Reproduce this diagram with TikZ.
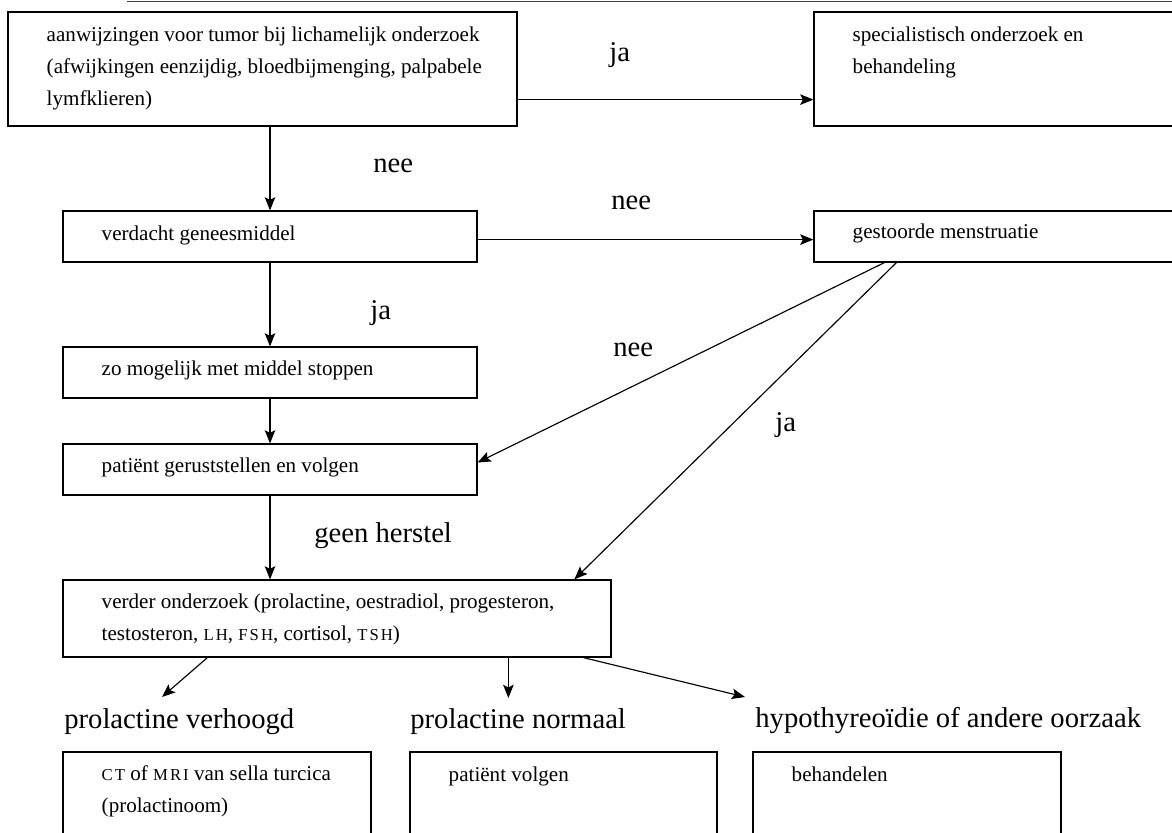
\documentclass[tikz,border=0pt]{standalone}
\usepackage{fontspec}
\setmainfont{Liberation Serif}
\usetikzlibrary{arrows.meta,fit}
\newcommand\kap[1]{{\fontsize{9.5}{9.5}\selectfont\addfontfeature{LetterSpace=12}#1}}
\tikzset{
	box/.style={draw,line width=0.7pt,inner sep=0pt},
	txt/.style={inner sep=0pt,anchor=base west,align=left,font=\fontsize{12}{18.2}\selectfont},
	lbl/.style={inner sep=0pt,anchor=base west,font=\fontsize{16.3}{19}\selectfont},
	arr/.style={-{Stealth[length=7.5pt,width=6pt,inset=1.5pt]},line width=0.65pt}
}
\begin{document}
\begin{tikzpicture}[x=0.2mm,y=-0.2mm]
	\useasboundingbox (0,0) rectangle (1172,833);
	\clip (0,0) rectangle (1172,833);
	\draw[line width=0.6pt,black!75] (127,1.5) -- (1172,1.5);
	\node[box,fit={(8,12) (517,126)}] (tumor) {};
	\node[box,fit={(814,12) (1200,126)}] (spec) {};
	\node[box,fit={(63,211) (477,262)}] (drug) {};
	\node[box,fit={(814,211) (1200,262)}] (mens) {};
	\node[box,fit={(63,347) (477,398)}] (stop) {};
	\node[box,fit={(63,444) (477,495)}] (follow) {};
	\node[box,fit={(63,580) (611,657)}] (verder) {};
	\node[box,fit={(63,752) (371,900)}] (ctmri) {};
	\node[box,fit={(410,752) (717,900)}] (volgen) {};
	\node[box,fit={(753,752) (1061,900)}] (treat) {};
	\node[txt] (tumor-t) at ([shift={(39,94)}]tumor.north west) {aanwijzingen voor tumor bij lichamelijk onderzoek\\(afwijkingen eenzijdig, bloedbijmenging, palpabele\\lymfklieren)};
	\node[txt] (spec-t) at ([shift={(39,62)}]spec.north west) {specialistisch onderzoek en\\behandeling};
	\node[txt] (drug-t) at ([shift={(39,30)}]drug.north west) {verdacht geneesmiddel};
	\node[txt] (mens-t) at ([shift={(39,28)}]mens.north west) {gestoorde menstruatie};
	\node[txt] (stop-t) at ([shift={(39,29)}]stop.north west) {zo mogelijk met middel stoppen};
	\node[txt] (follow-t) at ([shift={(39,29)}]follow.north west) {patiënt geruststellen en volgen};
	\node[txt] (verder-t) at ([shift={(39,61)}]verder.north west) {verder onderzoek (prolactine, oestradiol, progesteron,\\testosteron, \kap{LH}, \kap{FSH}, cortisol, \kap{TSH})};
	\node[txt] (ctmri-t) at ([shift={(39,61)}]ctmri.north west) {\kap{CT} of \kap{MRI} van sella turcica\\(prolactinoom)};
	\node[txt] (volgen-t) at ([shift={(39,30)}]volgen.north west) {patiënt volgen};
	\node[txt] (treat-t) at ([shift={(39,30)}]treat.north west) {behandelen};
	\node[lbl] (ja1) at (609,62) {ja};
	\node[lbl] (nee1) at (373,173) {nee};
	\node[lbl] (nee2) at (611,210) {nee};
	\node[lbl] (ja2) at (370,320) {ja};
	\node[lbl] (nee3) at (613,357) {nee};
	\node[lbl] (ja3) at (775,432) {ja};
	\node[lbl] (herstel) at (314,542) {geen herstel};
	\node[lbl] (hoog) at (64,728) {prolactine verhoogd};
	\node[lbl] (normaal) at (410,728) {prolactine normaal};
	\node[lbl] (hypo) at (755,727) {hypothyreoïdie of andere oorzaak};
	\draw[arr] ([shift={(0,-27)}]tumor.south east) -- ([shift={(0,-27)}]spec.south west);
	\draw[arr] (tumor.south -| drug.north) -- (drug.north);
	\draw[arr] ([shift={(0,-23)}]drug.south east) -- ([shift={(0,-23)}]mens.south west);
	\draw[arr] (drug) -- (stop);
	\draw[arr] (stop) -- (follow);
	\draw[arr] ([shift={(71,0)}]mens.south west) -- ([shift={(0,-7)}]follow.east);
	\draw[arr] (follow.south) -- (follow.south |- verder.north);
	\draw[arr] ([shift={(83,0)}]mens.south west) -- ([shift={(512,0)}]verder.north west);
	\draw[arr] ([shift={(145,0)}]verder.south west) -- ([shift={(98,-31)}]hoog.base west);
	\draw[arr] ([shift={(446,0)}]verder.south west) -- ([shift={(446,-30)}]verder.south west |- normaal.base west);
	\draw[arr] ([shift={(521,0)}]verder.south west) -- ([shift={(-10,-30)}]hypo.base west);
\end{tikzpicture}
\end{document}
